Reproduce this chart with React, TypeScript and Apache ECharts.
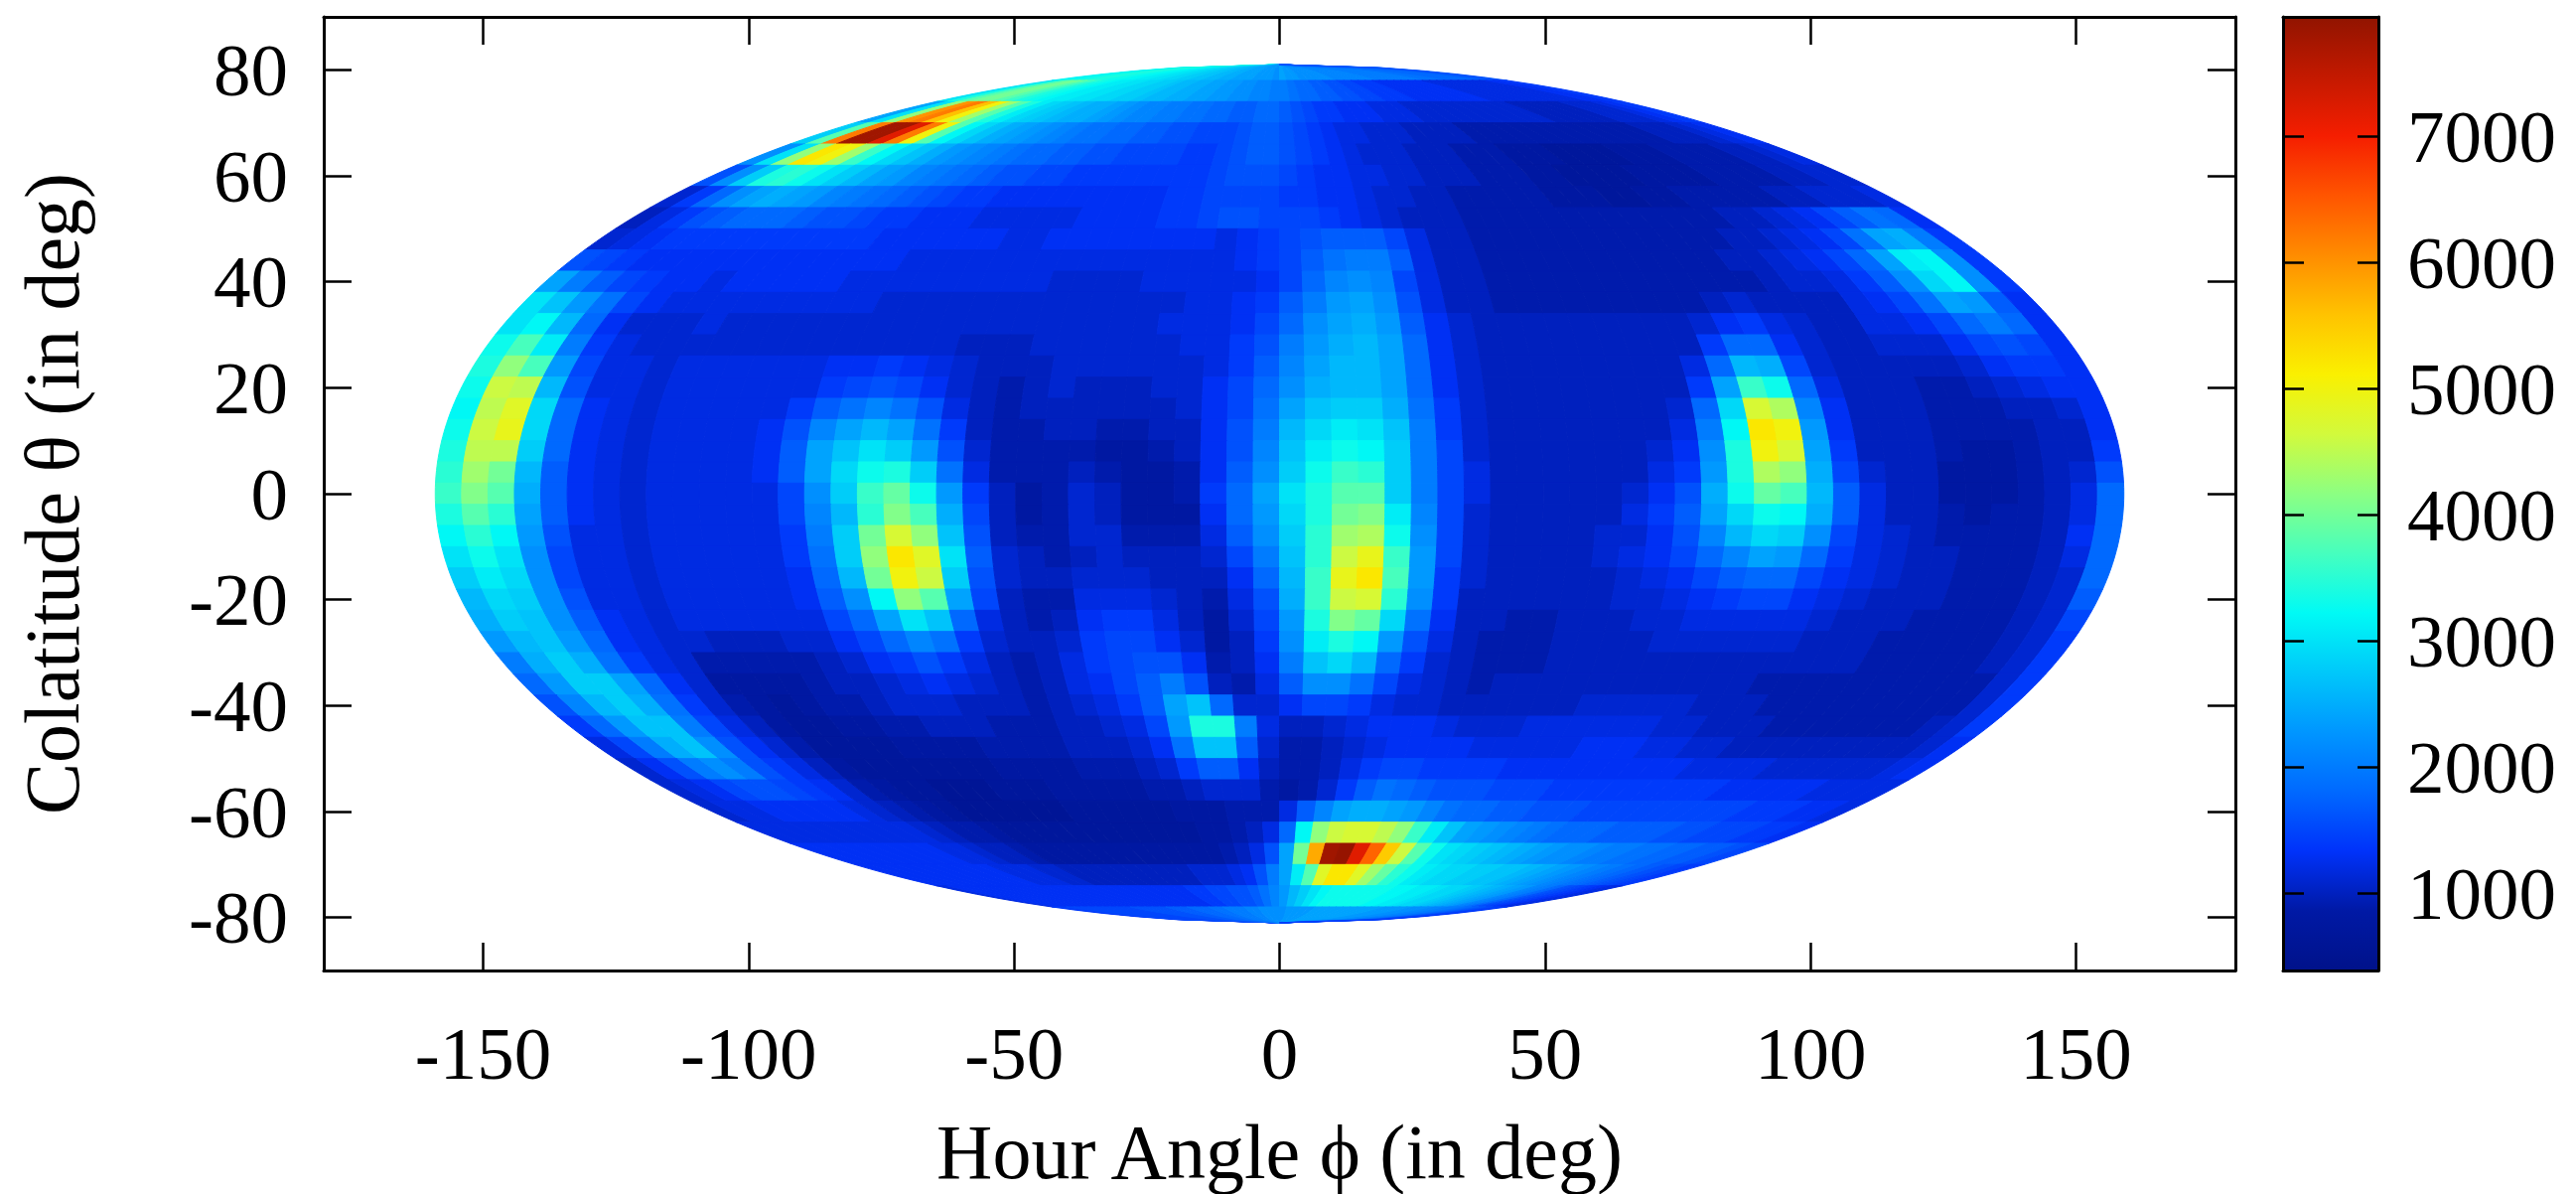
import React, { useEffect, useRef } from "react";
import * as echarts from "echarts";

const FONT = "Liberation Serif";
const latitudes = [80,76,72,68,64,60,56,52,48,44,40,36,32,28,24,20,16,12,8,4,0,-4,-8,-12,-16,-20,-24,-28,-32,-36,-40,-44,-48,-52,-56,-60,-64,-68,-72,-76,-80];
const xTicks = [-150,-100,-50,0,50,100,150];
const yTicks = [-80,-60,-40,-20,0,20,40,60,80];
const colorTicks = [1000,2000,3000,4000,5000,6000,7000];
const colorMin = 386;
const colorMax = 7945;
const jetStops = ["rgb(0,18,138)","rgb(0,25,165)","rgb(0,50,250)","rgb(0,105,255)","rgb(0,150,255)","rgb(0,200,250)","rgb(0,250,245)","rgb(70,255,190)","rgb(140,255,130)","rgb(210,250,60)","rgb(250,240,0)","rgb(255,195,0)","rgb(255,140,0)","rgb(255,85,0)","rgb(245,30,0)","rgb(195,25,0)","rgb(145,20,0)"];

// intensity / 100, one row per latitude, 64 cells per row along the parallel
const intensity = [
[32,32,33,33,34,34,34,33, 33,32,32,31,31,30,30,29, 29,28,28,27,27,26,26,25, 25,24,24,24,23,23,23,22, 24,23,23,22,22,22,22,22, 21,21,21,21,21,21,20,20, 20,20,20,20,20,19,19,19, 18,18,18,18,18,17,17,16],
[30,34,38,40,40,38,36,34, 33,32,31,31,30,30,29,29, 28,28,27,26,26,25,25,24, 24,23,23,22,22,21,21,20, 20,19,18,18,17,17,16,16, 15,15,14,14,14,13,13,13, 13,13,13,13,12,12,12,12, 12,12,12,12,12,13,13,14],
[24,30,42,60,62,56,50,43, 38,34,31,29,28,27,26,25, 25,24,23,22,21,21,20,20, 19,19,18,18,17,17,18,18, 17,16,15,14,14,13,13,13, 12,12,12,11,11,11,11,11, 11,11,11,11,11,10,10,10, 10,10,11,11,11,12,13,14],
[28,38,62,78,78,72,62,50, 38,32,29,27,25,24,23,22, 21,20,19,19,18,18,17,17, 16,16,15,15,15,16,17,17, 16,15,14,13,12,12,11,11, 11,10,10,10,10,9,9,9, 9,9,9,9,9,9,9,9, 9,9,10,10,10,11,12,13],
[22,30,42,52,50,43,36,32, 29,27,25,23,22,21,20,19, 18,18,17,17,16,16,15,15, 15,15,14,14,15,16,17,17, 16,15,14,13,12,11,11,11, 10,10,10,9,9,9,8,8, 8,7,7,7,7,8,8,8, 9,9,9,9,10,10,11,12],
[16,22,28,34,35,33,30,28, 26,24,23,21,20,19,18,17, 16,16,15,15,14,14,14,14, 14,14,14,14,15,16,16,16, 15,14,13,13,12,12,11,11, 10,10,10,9,9,9,8,8, 7,7,7,7,8,8,8,8, 9,9,9,9,10,10,11,11],
[11,14,18,22,24,25,24,23, 21,20,19,18,17,16,15,14, 14,13,13,13,13,13,13,13, 13,13,14,14,15,15,15,15, 14,14,13,13,12,11,11,10, 10,9,9,9,9,9,8,8, 8,7,7,8,8,9,9,9, 9,9,10,10,11,11,11,12],
[10,12,14,16,17,18,18,18, 17,16,16,15,14,14,13,13, 13,12,12,12,12,12,13,13, 13,13,14,14,15,16,16,15, 15,15,14,13,12,11,10,10, 10,9,9,9,9,9,9,9, 9,9,9,9,9,9,10,10, 11,12,13,15,17,19,18,13],
[11,12,13,14,14,14,14,14, 14,14,14,14,14,13,13,13, 13,13,13,12,12,13,13,13, 13,13,13,13,13, 12,13,14,15,16,17,17,17,15,12,10,10, 9,9,9,9,9,9,9, 9,9,9,9,9,10,10,11, 12,13,15,19,24,25,20,14],
[16,15,14,13,13,13,13,13, 13,13,13,13,13,13,13,12, 12,12,12,12,12,12,12,12, 12,12,12,12,12, 12,13,14,15,17,19,20,20,17,12,10,10, 9,9,9,9,9,9,9, 9,9,9,9,10,10,11,12, 13,15,18,24,31,32,22,14],
[24,20,17,15,14,13,13,12, 13,13,13,13,13,12,12,12, 12,12,12,12,12,12,11,11, 11,11,12,12,12, 12,12,13,15,18,21,22,21,15,12,10,10, 9,9,9,9,9,9,9, 9,9,9,9,9,10,11,11, 12,14,17,22,29,32,22,14],
[30,27,23,19,15,13,12,12, 12,12,12,12,12,12,12,11, 11,11,11,11,11,11,11,11, 11,11,11,11,12, 12,13,14,17,20,23,24,22,16,12,10,10, 9,9,9,9,9,9,9, 9,9,10,11,10,10,10,10, 12,13,15,19,24,23,17,13],
[30,32,26,18,13,11,11,11, 12,11,11,11,11,11,11,11, 11,11,11,11,11,11,11,11, 11,11,11,12,12, 12,13,15,18,22,24,25,23,17,13,11,10, 10,10,10,10,10,10,10, 10,11,13,14,12,11,10,10, 12,12,13,15,18,20,18,13],
[33,37,31,20,14,12,11,11, 11,11,11,11,11,11,11,11, 11,11,11,10,10,10,11,11, 11,11,11,11,12, 12,14,16,20,23,25,26,24,18,13,11,10, 10,10,10,10,10,10,10, 10,14,18,18,13,11,10,10, 11,11,11,13,15,16,15,13],
[34,42,37,23,15,12,12,11, 12,12,12,12,12,12,13,13, 14,13,12,11,10,10,10,11, 11,11,11,11,11, 12,14,17,21,24,26,26,24,18,13,11,10, 10,10,10,10,10,10,10, 12,18,26,25,15,11,10,10, 10,10,10,11,13,14,14,13],
[33,46,45,26,16,12,12,11, 12,12,12,12,12,12,14,15, 16,15,13,11,10,9,10,11, 10,10,10,11,11, 13,15,18,22,25,26,26,24,18,13,11,10, 10,10,10,10,10,10,10, 14,24,36,33,18,12,10,10, 10,9,9,10,11,12,13,13],
[32,45,48,29,18,13,12,11, 12,12,12,12,12,14,17,19, 21,19,16,12,10,9,10,10, 10,10,10,10,11, 13,15,19,24,27,28,28,25,19,14,11,10, 10,10,10,10,10,10,11, 18,29,47,44,21,13,10,10, 10,9,9,9,10,10,11,13],
[33,46,49,29,18,13,12,11, 12,12,12,12,13,16,21,24, 26,24,19,14,10,9,9,10, 10,9,9,10,10, 13,16,20,26,29,31,30,27,20,14,11,10, 10,10,10,10,10,10,12, 20,32,52,50,23,13,10,10, 10,9,9,9,9,10,10,13],
[34,45,45,28,18,13,12,11, 12,12,12,12,13,17,24,27, 30,28,23,16,11,9,9,9, 9,8,8,9,10, 13,16,21,27,31,33,32,28,20,15,11,10, 10,10,10,10,10,11,13, 22,34,50,47,24,14,10,10, 10,9,8,8,9,10,10,14],
[35,43,40,26,17,13,12,11, 12,12,12,12,13,17,24,29, 33,34,28,19,12,9,9,9, 10,9,8,8,9, 13,17,22,28,33,36,35,28,20,15,12,10, 10,10,10,10,10,12,14, 23,34,44,42,25,15,11,10, 10,8,8,8,9,10,11,16],
[36,41,38,25,17,13,12,11, 12,12,12,12,12,15,22,28, 36,39,33,23,14,10,8,9, 11,10,8,8,9, 14,18,24,30,34,38,38,28,20,15,12,10, 10,10,10,10,11,13,16, 25,33,39,37,26,17,12,10, 10,8,8,8,9,10,12,18],
[34,38,35,24,17,13,12,11, 12,12,12,12,12,15,21,26, 35,41,37,25,15,10,8,9, 11,10,8,8,8, 13,18,23,29,34,40,41,31,21,15,11,10, 10,10,10,10,12,14,17, 24,29,33,32,25,17,12,10, 10,9,8,9,9,10,12,18],
[32,35,32,23,16,12,12,11, 12,12,12,12,12,14,20,28, 40,47,42,27,16,10,9,9, 11,11,9,9,9, 12,17,22,28,35,43,44,33,22,15,11,10, 10,10,10,11,11,13,16, 21,26,29,28,22,15,12,11, 10,9,9,9,9,10,13,18],
[30,33,30,22,15,12,12,11, 12,12,12,12,12,14,19,28, 42,52,48,30,17,11,10,9, 10,11,10,10,10, 11,15,20,27,35,46,49,36,23,15,11,10, 10,10,10,11,12,13,15, 18,21,24,23,18,14,12,11, 10,10,9,9,9,10,12,18],
[28,31,29,22,15,12,12,11, 12,12,12,12,12,13,18,26, 40,50,46,28,16,11,10,10, 11,11,11,10,10, 10,13,18,26,36,49,52,37,23,14,11,10, 10,10,10,10,11,12,13, 15,17,18,18,15,13,12,11, 10,10,9,9,9,10,11,18],
[26,29,28,22,16,12,12,11, 12,12,12,12,12,13,17,22, 32,42,38,24,15,10,9,9, 12,12,12,11,10, 9,12,16,25,36,46,47,35,22,14,10,10, 10,10,10,10,11,11,12, 13,14,15,15,13,12,11,10, 10,10,9,9,9,10,11,17],
[25,28,27,22,17,13,12,11, 12,12,12,12,12,12,15,18, 24,30,27,18,12,10,9,10, 13,14,14,12,10, 8,11,15,23,34,41,39,29,19,13,10,10, 9,9,10,10,10,11,11, 12,12,12,12,12,11,10,10, 10,9,9,9,9,10,11,15],
[23,26,27,23,18,13,12,11, 11,10,10,10,11,11,13,15, 18,21,19,14,11,10,10,11, 14,15,15,13,11, 8,10,14,22,31,34,32,23,16,12,10,9, 9,9,10,10,10,10,11, 11,11,11,11,11,10,10,10, 9,9,9,9,9,10,11,14],
[20,25,28,25,19,14,12,11, 9,9,9,9,9,10,11,13, 14,16,14,12,10,9,10,12, 14,15,16,16,13, 9,10,13,20,27,29,26,18,14,11,10,9, 9,9,10,10,10,10,10, 10,10,10,10,10,10,10,10, 9,9,9,9,9,10,11,14],
[18,23,28,28,24,18,13,11, 8,8,8,8,9,10,10,11, 12,13,12,11,10,9,10,12, 13,15,17,20,16, 10,9,12,17,22,22,19,15,12,11,10,9, 10,10,10,10,10,10,10, 10,10,10,10,9,9,9,9, 9,9,9,9,9,9,11,14],
[16,21,26,28,25,19,14,11, 9,8,7,8,9,9,10,11, 11,11,10,10,10,9,10,11, 12,14,17,24,27, 18,11,11,13,15,15,14,12,11,11,10,10, 10,10,10,10,11,11,11, 11,11,10,10,10,9,9,9, 9,9,9,9,9,9,11,14],
[14,18,23,27,27,20,15,12, 10,8,7,7,8,8,9,9, 10,10,10,9,9,9,10,10, 11,12,15,23,34, 34,20,12,10,10,11,12,13,13,13,12,11, 11,11,12,12,12,12,12, 12,11,11,10,10,10,9,9, 9,9,9,9,9,10,11,14],
[12,15,20,25,27,22,16,13, 11,9,7,7,7,7,8,8, 8,8,9,9,9,9,10,10, 10,11,13,19,27, 27,17,11,9,9,10,11,12,13,13,13,13, 12,12,12,12,12,13,13, 13,12,12,11,11,10,10,10, 10,10,10,10,10,10,11,13],
[11,13,16,20,22,20,16,14, 12,10,8,7,7,7,7,7, 7,7,8,8,8,8,9,9, 9,10,11,14,17, 17,13,10,9,9,10,12,14,15,15,14,14, 14,14,13,13,13,13,13, 13,13,13,13,12,12,12,12, 11,11,11,11,11,11,12,13],
[11,12,13,15,16,16,15,14, 13,11,9,8,7,7,6,6, 6,7,7,7,8,8,8,8, 8,9,9,10,11, 11,11,9,8,9,11,14,17,19,18,17,16, 16,16,15,15,15,14,14, 14,14,14,14,14,14,14,13, 13,13,13,13,12,12,12,12],
[11,12,12,13,13,13,13,13, 12,11,10,9,8,7,6,6, 6,6,6,6,7,7,7,7, 7,7,8,8,8, 9,9,9,12,17,21,24,25,25,24,23,21, 19,18,18,17,17,16,16, 16,15,15,15,15,15,15,15, 15,15,14,14,14,13,13,12],
[12,12,12,12,12,12,12,12, 12,12,11,10,9,9,8,7, 7,7,7,7,7,7,7,7, 7,7,7,8,8, 9,10,12,18,32,42,46,47,47,45,42,36, 31,27,24,23,22,21,20, 19,18,18,18,17,17,17,17, 16,16,15,15,15,14,14,13],
[13,13,13,13,13,13,13,13, 13,12,12,11,10,10,9,8, 8,8,8,8,8,8,8,8, 8,8,8,8,9, 10,12,16,24,40,58,78,79,72,64,55,46, 38,33,30,29,28,27,26, 25,24,23,22,22,21,20,20, 19,19,18,18,17,17,16,15],
[13,13,13,13,13,13,13,13, 13,13,12,12,12,11,11,10, 10,10,10,10,10,10,10,10, 10,11,11,11,12, 13,16,20,24,31,38,48,52,52,48,43,39, 35,33,31,30,29,29,28, 28,27,27,26,25,24,23,22, 21,20,19,18,17,16,15,14],
[12,13,13,13,13,13,13,13, 13,13,13,13,13,13,13,13, 13,13,13,13,13,13,13,14, 14,15,15,16,16, 17,19,21,23,26,28,30,32,33,33,33,33, 33,33,32,32,31,31,30, 29,29,28,27,26,25,24,23, 21,20,18,16,15,14,13,12],
[14,14,15,15,15,15,15,15, 15,15,15,16,16,16,16,16, 17,17,17,18,18,18,19,19, 20,20,20,21,21,22,22,22, 22,23,23,23,23,24,24,24, 24,24,24,24,24,24,24,23, 23,23,23,22,22,22,21,21, 20,20,19,18,17,16,15,14],
];

const HALF_WIDTH = 159;
const POLE = 81;
const CELLS = 64;

function buildCells() {
  const out: number[][] = [];
  intensity.forEach((row, r) => {
    row.forEach((v, i) => {
      out.push([(i + 0.5 - CELLS / 2) / (CELLS / 2), latitudes[r], v * 100]);
    });
  });
  return out;
}

function App() {
  const ref = useRef<HTMLDivElement>(null);
  useEffect(() => {
    const chart = echarts.init(ref.current!, undefined, { renderer: "svg" });
    const ink = "#000";
    const label = { fontFamily: FONT, fontSize: 75, color: ink };
    const lineStyle = { color: ink, width: 3 };
    const tick = (len: number, values: number[]) => ({
      show: true, inside: true, length: len, customValues: values, lineStyle: { color: ink, width: 2.5 },
    });
    const cellRender = (params: any, api: any) => {
      const u = api.value(0);
      const lat = api.value(1);
      const du = 1 / (CELLS / 2) / 2;
      const top = Math.min(POLE, lat + 2);
      const bot = Math.max(-POLE, lat - 2);
      const edge = (uu: number, from: number, to: number) => {
        const pts: number[][] = [];
        for (let k = 0; k <= 5; k++) {
          const l = from + ((to - from) * k) / 5;
          const f = Math.sqrt(Math.max(0, 1 - (l / POLE) * (l / POLE)));
          pts.push(api.coord([HALF_WIDTH * uu * f, l]));
        }
        return pts;
      };
      const points = edge(u - du, top, bot).concat(edge(u + du, bot, top));
      const color = api.visual("color");
      return { type: "polygon", shape: { points }, style: { fill: color, stroke: color, lineWidth: 1 } };
    };
    const barRender = (params: any, api: any) => {
      const a = api.coord([0, api.value(0)]);
      const b = api.coord([1, api.value(1)]);
      const n = jetStops.length - 1;
      return {
        type: "rect",
        shape: { x: a[0], y: b[1], width: b[0] - a[0], height: a[1] - b[1] },
        style: {
          fill: new echarts.graphic.LinearGradient(0, 1, 0, 0, jetStops.map((c, i) => ({ offset: i / n, color: c }))),
        },
      };
    };
    chart.setOption({
      animation: false,
      backgroundColor: "#fff",
      grid: [
        { left: 326, top: 17, width: 1925, height: 960, outerBoundsMode: "none" },
        { left: 2299, top: 17, width: 96, height: 960, outerBoundsMode: "none" },
      ],
      visualMap: {
        show: false, type: "continuous", seriesIndex: 0, dimension: 2,
        min: colorMin, max: colorMax, inRange: { color: jetStops },
      },
      xAxis: [
        {
          type: "value", gridIndex: 0, position: "bottom", min: -180, max: 180, z: 10, splitLine: { show: false },
          axisLine: { show: true, onZero: false, lineStyle }, axisTick: tick(28, xTicks),
          axisLabel: { ...label, margin: 46, customValues: xTicks, formatter: (v: number) => String(v) },
          name: "Hour Angle ϕ (in deg)", nameLocation: "middle", nameGap: 143,
          nameTextStyle: { fontFamily: FONT, fontSize: 78, color: ink },
        },
        {
          type: "value", gridIndex: 0, position: "top", min: -180, max: 180, z: 10, splitLine: { show: false },
          axisLine: { show: true, onZero: false, lineStyle }, axisTick: tick(28, xTicks), axisLabel: { show: false },
        },
        {
          type: "value", gridIndex: 1, position: "bottom", min: 0, max: 1, z: 10, splitLine: { show: false },
          axisLine: { show: true, onZero: false, lineStyle }, axisTick: { show: false }, axisLabel: { show: false },
        },
        {
          type: "value", gridIndex: 1, position: "top", min: 0, max: 1, z: 10, splitLine: { show: false },
          axisLine: { show: true, onZero: false, lineStyle }, axisTick: { show: false }, axisLabel: { show: false },
        },
      ],
      yAxis: [
        {
          type: "value", gridIndex: 0, position: "left", min: -90, max: 90, z: 10, splitLine: { show: false },
          axisLine: { show: true, onZero: false, lineStyle }, axisTick: tick(28, yTicks),
          axisLabel: { ...label, margin: 36, customValues: yTicks, formatter: (v: number) => String(v) },
          name: "Colatitude θ (in deg)", nameLocation: "middle", nameGap: 235,
          nameTextStyle: { fontFamily: FONT, fontSize: 78, color: ink },
        },
        {
          type: "value", gridIndex: 0, position: "right", min: -90, max: 90, z: 10, splitLine: { show: false },
          axisLine: { show: true, onZero: false, lineStyle }, axisTick: tick(28, yTicks), axisLabel: { show: false },
        },
        {
          type: "value", gridIndex: 1, position: "right", min: colorMin, max: colorMax, z: 10, splitLine: { show: false },
          axisLine: { show: true, onZero: false, lineStyle }, axisTick: tick(21, colorTicks),
          axisLabel: { ...label, margin: 29, customValues: colorTicks, formatter: (v: number) => String(v) },
        },
        {
          type: "value", gridIndex: 1, position: "left", min: colorMin, max: colorMax, z: 10, splitLine: { show: false },
          axisLine: { show: true, onZero: false, lineStyle }, axisTick: tick(21, colorTicks), axisLabel: { show: false },
        },
      ],
      series: [
        {
          type: "custom", xAxisIndex: 0, yAxisIndex: 0, renderItem: cellRender, silent: true, clip: true,
          data: buildCells(), encode: { x: 0, y: 1 }, z: 2,
        },
        {
          type: "custom", xAxisIndex: 2, yAxisIndex: 2, renderItem: barRender, silent: true,
          data: [[colorMin, colorMax]], encode: { y: [0, 1] }, z: 2,
        },
      ],
    });
    return () => chart.dispose();
  }, []);
  return <div ref={ref} style={{ position: "absolute", left: 0, top: 0, width: 2594, height: 1202 }} />;
}

export default App;
